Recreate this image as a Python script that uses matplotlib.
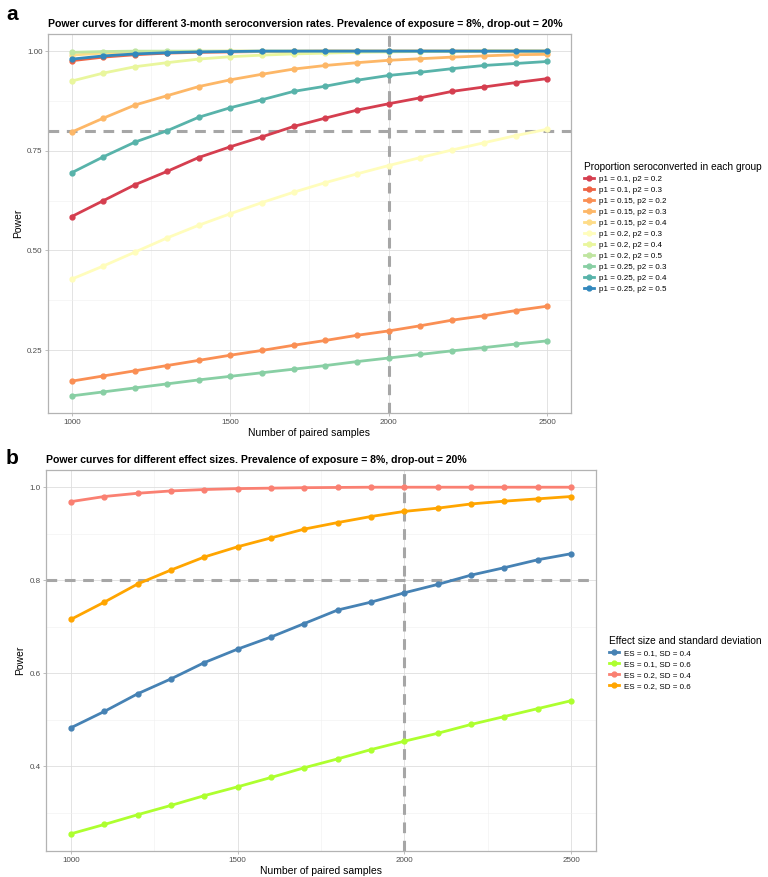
import matplotlib
matplotlib.use("Agg")
import matplotlib.pyplot as plt
from matplotlib.lines import Line2D

plt.rcParams['font.family'] = ['Liberation Sans', 'DejaVu Sans']

# ---- data ----
n_samples = [1000, 1100, 1200, 1300, 1400, 1500, 1600, 1700, 1800, 1900,
             2000, 2100, 2200, 2300, 2400, 2500]

groups_a = ['p1 = 0.1, p2 = 0.2', 'p1 = 0.1, p2 = 0.3', 'p1 = 0.15, p2 = 0.2',
            'p1 = 0.15, p2 = 0.3', 'p1 = 0.15, p2 = 0.4', 'p1 = 0.2, p2 = 0.3',
            'p1 = 0.2, p2 = 0.4', 'p1 = 0.2, p2 = 0.5', 'p1 = 0.25, p2 = 0.3',
            'p1 = 0.25, p2 = 0.4', 'p1 = 0.25, p2 = 0.5']
colors_a = ['#D53E4F', '#EE6445', '#FA8F54', '#FDB767', '#FEDC88', '#FFFDBC',
            '#E9F69D', '#BFE5A0', '#88CFA4', '#58B3AA', '#3288BD']

p01_02 = [0.585, 0.625, 0.665, 0.698, 0.733, 0.760, 0.785, 0.811, 0.832, 0.852,
          0.868, 0.883, 0.899, 0.910, 0.921, 0.931]
p01_03 = [0.976, 0.985, 0.991, 0.995, 0.997, 0.998, 0.999, 0.9995, 1.0, 1.0,
          1.0, 1.0, 1.0, 1.0, 1.0, 1.0]
p015_02 = [0.172, 0.185, 0.198, 0.211, 0.224, 0.237, 0.249, 0.262, 0.274, 0.287,
           0.298, 0.311, 0.325, 0.336, 0.349, 0.360]
p015_03 = [0.797, 0.832, 0.865, 0.888, 0.911, 0.928, 0.942, 0.955, 0.964, 0.971,
           0.977, 0.981, 0.985, 0.988, 0.991, 0.992]
p015_04 = [0.990, 0.995, 0.998, 0.999, 0.9995, 1.0, 1.0, 1.0, 1.0, 1.0,
           1.0, 1.0, 1.0, 1.0, 1.0, 1.0]
p02_03 = [0.428, 0.461, 0.496, 0.531, 0.563, 0.592, 0.620, 0.646, 0.670, 0.692,
          0.713, 0.733, 0.752, 0.770, 0.788, 0.804]
p02_04 = [0.925, 0.945, 0.961, 0.971, 0.980, 0.986, 0.990, 0.993, 0.995, 0.997,
          0.998, 0.999, 0.999, 1.0, 1.0, 1.0]
p02_05 = [0.997, 0.999, 1.0, 1.0, 1.0, 1.0, 1.0, 1.0, 1.0, 1.0,
          1.0, 1.0, 1.0, 1.0, 1.0, 1.0]
p025_03 = [0.135, 0.145, 0.155, 0.165, 0.175, 0.184, 0.193, 0.202, 0.211, 0.221,
           0.230, 0.239, 0.248, 0.256, 0.265, 0.273]
p025_04 = [0.695, 0.735, 0.772, 0.800, 0.834, 0.858, 0.878, 0.899, 0.912, 0.927,
           0.939, 0.947, 0.956, 0.964, 0.969, 0.974]
p025_05 = [0.980, 0.988, 0.993, 0.996, 0.998, 0.999, 1.0, 1.0, 1.0, 1.0,
           1.0, 1.0, 1.0, 1.0, 1.0, 1.0]
series_a = [p01_02, p01_03, p015_02, p015_03, p015_04, p02_03, p02_04, p02_05,
            p025_03, p025_04, p025_05]

groups_b = ['ES = 0.1, SD = 0.4', 'ES = 0.1, SD = 0.6', 'ES = 0.2, SD = 0.4',
            'ES = 0.2, SD = 0.6']
colors_b = ['steelblue', 'greenyellow', 'salmon', 'orange']
es01_sd04 = [0.483, 0.518, 0.556, 0.588, 0.623, 0.652, 0.678, 0.707, 0.736, 0.753,
             0.773, 0.791, 0.811, 0.827, 0.844, 0.857]
es01_sd06 = [0.255, 0.275, 0.296, 0.316, 0.337, 0.356, 0.376, 0.397, 0.416, 0.436,
             0.454, 0.471, 0.490, 0.507, 0.524, 0.541]
es02_sd04 = [0.969, 0.980, 0.987, 0.992, 0.995, 0.997, 0.998, 0.999, 0.9995, 1.0,
             1.0, 1.0, 1.0, 1.0, 1.0, 1.0]
es02_sd06 = [0.716, 0.753, 0.792, 0.822, 0.850, 0.872, 0.891, 0.910, 0.924, 0.937,
             0.948, 0.955, 0.964, 0.970, 0.975, 0.980]
series_b = [es01_sd04, es01_sd06, es02_sd04, es02_sd06]

W, H = 768, 877
fig = plt.figure(figsize=(W / 100, H / 100), dpi=100)


def box(x0, y0, x1, y1):
    # pixel box -> figure fraction
    return [x0 / W, 1 - y1 / H, (x1 - x0) / W, (y1 - y0) / H]


def style(ax, yticks, minor_y):
    ax.set_xlim(925, 2575)
    ax.set_xticks([1000, 1500, 2000, 2500])
    ax.set_xticks([1250, 1750, 2250], minor=True)
    ax.set_yticks(yticks)
    ax.set_yticks(minor_y, minor=True)
    ax.grid(which='major', color='#DEDEDE', lw=0.6)
    ax.grid(which='minor', color='#EFEFEF', lw=0.4)
    ax.set_axisbelow(True)
    for s in ax.spines.values():
        s.set_color('#B3B3B3')
        s.set_linewidth(0.9)
    ax.tick_params(which='major', length=2.5, color='#B3B3B3', labelsize=5.8,
                   labelcolor='#4D4D4D', width=0.6, pad=1.5)
    ax.tick_params(which='minor', length=0)
    ax.set_xlabel('Number of paired samples', fontsize=7.5, labelpad=1.5)
    ax.set_ylabel('Power', fontsize=7.5, labelpad=3)
    ax.axhline(0.8, color='#A6A6A6', lw=2.2, ls=(0, (3.5, 2.5)), zorder=1.5)
    ax.axvline(2000, color='#A6A6A6', lw=2.2, ls=(0, (3.5, 2.5)), zorder=1.5)


def add_legend(labels, colors, title, anchor):
    handles = [Line2D([], [], color=c, lw=2, marker='o', ms=3.5) for c in colors]
    leg = fig.legend(handles, labels, title=title, loc='upper left',
                     bbox_to_anchor=anchor, frameon=False, fontsize=5.8,
                     title_fontsize=7.3, handlelength=1.2, handletextpad=0.6,
                     labelspacing=0.42, borderpad=0)
    leg._legend_box.align = 'left'


# ---- panel a ----
ax1 = fig.add_axes(box(48, 34, 571, 413))
for vals, c in zip(series_a, colors_a):
    ax1.plot(n_samples, vals, color=c, lw=2, marker='o', ms=3.5, zorder=3)
ax1.set_ylim(0.092, 1.043)
style(ax1, [0.25, 0.50, 0.75, 1.00], [0.375, 0.625, 0.875])
ax1.set_yticklabels(['0.25', '0.50', '0.75', '1.00'])
ax1.set_title('Power curves for different 3-month seroconversion rates. '
              'Prevalence of exposure = 8%, drop-out = 20%',
              fontsize=7.6, fontweight='bold', loc='left', pad=5)
add_legend(groups_a, colors_a, 'Proportion seroconverted in each group',
           (580 / W, 1 - 158 / H))
fig.text(6 / W, 1 - 20 / H, 'a', fontsize=15, fontweight='bold')

# ---- panel b ----
ax2 = fig.add_axes(box(46, 470, 596, 851))
for vals, c in zip(series_b, colors_b):
    ax2.plot(n_samples, vals, color=c, lw=2, marker='o', ms=3.5, zorder=3)
ax2.set_ylim(0.218, 1.037)
style(ax2, [0.4, 0.6, 0.8, 1.0], [0.3, 0.5, 0.7, 0.9])
ax2.set_yticklabels(['0.4', '0.6', '0.8', '1.0'])
ax2.set_title('Power curves for different effect sizes. '
              'Prevalence of exposure = 8%, drop-out = 20%',
              fontsize=7.6, fontweight='bold', loc='left', pad=5)
add_legend(groups_b, colors_b, 'Effect size and standard deviation',
           (605 / W, 1 - 632 / H))
fig.text(6 / W, 1 - 464 / H, 'b', fontsize=15, fontweight='bold')

fig.savefig('out.png', dpi=100)
